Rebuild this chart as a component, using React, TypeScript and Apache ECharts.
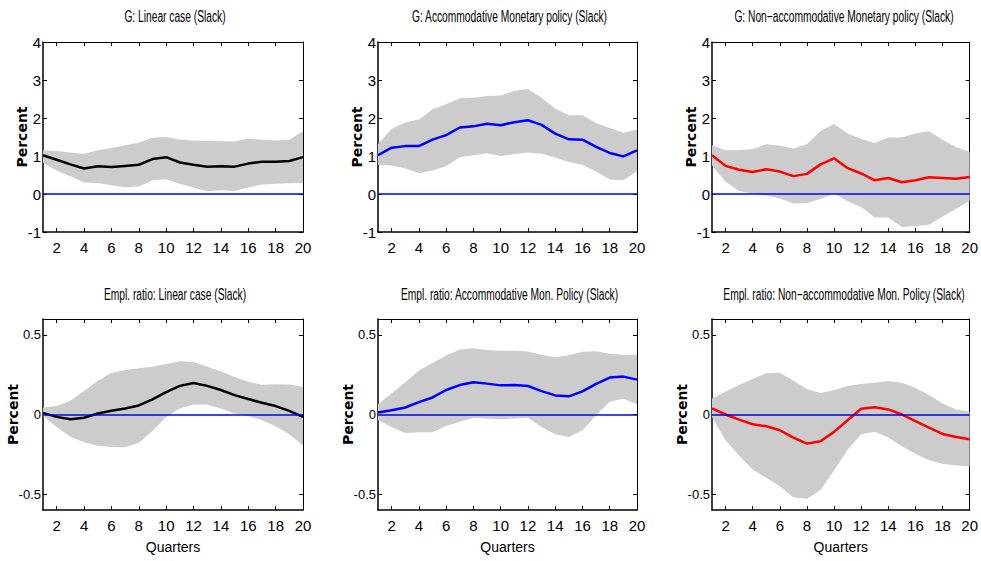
import React, { useEffect, useRef } from "react";
import * as echarts from "echarts";

const quarters = ["1","2","3","4","5","6","7","8","9","10","11","12","13","14","15","16","17","18","19","20"];

const gTicks = [-1, 0, 1, 2, 3, 4];
const eTicks = [-0.5, 0, 0.5];

const gLinMean = [1.02,0.90,0.78,0.67,0.73,0.71,0.74,0.77,0.92,0.97,0.83,0.77,0.72,0.73,0.72,0.80,0.85,0.85,0.87,0.97];
const gLinUp = [1.15,1.13,1.09,1.05,1.15,1.21,1.28,1.35,1.48,1.50,1.43,1.41,1.40,1.39,1.38,1.46,1.43,1.41,1.43,1.65];
const gLinLo = [0.82,0.62,0.47,0.30,0.29,0.23,0.18,0.20,0.36,0.39,0.27,0.17,0.07,0.10,0.08,0.17,0.25,0.27,0.28,0.29];

const gAccMean = [1.02,1.22,1.26,1.26,1.43,1.55,1.75,1.78,1.85,1.81,1.89,1.94,1.82,1.59,1.44,1.43,1.24,1.08,0.99,1.15];
const gAccUp = [1.31,1.72,1.88,1.96,2.23,2.36,2.52,2.53,2.58,2.59,2.72,2.76,2.53,2.25,2.07,2.07,1.87,1.74,1.61,1.70];
const gAccLo = [0.77,0.75,0.67,0.55,0.62,0.74,0.97,1.02,1.07,1.00,1.05,1.09,1.06,0.96,0.84,0.77,0.59,0.38,0.36,0.60];

const gNonMean = [1.02,0.74,0.64,0.58,0.65,0.59,0.47,0.53,0.78,0.94,0.68,0.54,0.36,0.42,0.31,0.36,0.44,0.42,0.40,0.45];
const gNonUp = [1.28,1.15,1.16,1.18,1.31,1.27,1.20,1.31,1.66,1.84,1.59,1.45,1.34,1.49,1.49,1.59,1.65,1.43,1.24,1.11];
const gNonLo = [0.75,0.32,0.08,0.01,-0.04,-0.12,-0.25,-0.24,-0.13,0.01,-0.19,-0.34,-0.62,-0.62,-0.87,-0.84,-0.81,-0.59,-0.39,-0.18];

const eLinMean = [0.01,-0.015,-0.03,-0.02,0.006,0.023,0.038,0.057,0.095,0.14,0.18,0.198,0.18,0.154,0.122,0.097,0.074,0.053,0.023,-0.015];
const eLinUp = [0.044,0.053,0.086,0.147,0.21,0.26,0.28,0.29,0.30,0.318,0.335,0.33,0.30,0.27,0.236,0.206,0.187,0.19,0.189,0.175];
const eLinLo = [-0.01,-0.078,-0.14,-0.175,-0.196,-0.204,-0.206,-0.177,-0.103,-0.015,0.038,0.063,0.063,0.038,0.006,-0.01,-0.036,-0.074,-0.124,-0.194];

const eAccMean = [0.013,0.027,0.044,0.078,0.107,0.154,0.185,0.202,0.194,0.183,0.185,0.179,0.147,0.12,0.114,0.145,0.192,0.232,0.238,0.219];
const eAccUp = [0.065,0.133,0.202,0.276,0.324,0.37,0.408,0.417,0.406,0.40,0.40,0.396,0.375,0.36,0.373,0.394,0.398,0.381,0.375,0.375];
const eAccLo = [-0.036,-0.078,-0.116,-0.112,-0.112,-0.072,-0.046,-0.021,-0.025,-0.03,-0.025,-0.021,-0.078,-0.124,-0.141,-0.099,-0.004,0.08,0.099,0.065];

const eNonMean = [0.038,0.0,-0.032,-0.061,-0.074,-0.099,-0.145,-0.183,-0.168,-0.109,-0.036,0.036,0.046,0.032,0.0,-0.042,-0.082,-0.122,-0.141,-0.156];
const eNonUp = [0.10,0.143,0.185,0.223,0.259,0.263,0.213,0.158,0.135,0.154,0.179,0.192,0.20,0.21,0.20,0.168,0.122,0.069,0.032,0.017];
const eNonLo = [-0.015,-0.162,-0.257,-0.345,-0.398,-0.45,-0.52,-0.53,-0.474,-0.352,-0.221,-0.124,-0.109,-0.145,-0.2,-0.246,-0.288,-0.309,-0.32,-0.326];

const titles = [
  "G: Linear case (Slack)",
  "G: Accommodative Monetary policy (Slack)",
  "G: Non\u2212accommodative Monetary policy (Slack)",
  "Empl. ratio: Linear case (Slack)",
  "Empl. ratio: Accommodative Mon. Policy (Slack)",
  "Empl. ratio: Non\u2212accommodative Mon. Policy (Slack)",
];

const panels = [
  { mean: gLinMean, up: gLinUp, lo: gLinLo, color: "#000000" },
  { mean: gAccMean, up: gAccUp, lo: gAccLo, color: "#0000ff" },
  { mean: gNonMean, up: gNonUp, lo: gNonLo, color: "#ff0000" },
  { mean: eLinMean, up: eLinUp, lo: eLinLo, color: "#000000" },
  { mean: eAccMean, up: eAccUp, lo: eAccLo, color: "#0000ff" },
  { mean: eNonMean, up: eNonUp, lo: eNonLo, color: "#ff0000" },
];

const SANS = "'Liberation Sans', Arial, Helvetica, sans-serif";

const colLeft = [43, 378, 712];
const colWidth = [260, 259, 260];
const rowTop = [42, 319];
const rowHeight = [190, 191];
const titleY = [17, 295];

const evenIdx = (index: number) => index % 2 === 1;

function buildOption() {
  const grid: any[] = [];
  const xAxis: any[] = [];
  const yAxis: any[] = [];
  const series: any[] = [];
  const graphic: any[] = [];

  panels.forEach((p, i) => {
    const r = Math.floor(i / 3);
    const c = i % 3;
    const left = colLeft[c];
    const width = colWidth[c];
    grid.push({ left, top: rowTop[r], width, height: rowHeight[r], containLabel: false });
    graphic.push({
      type: "text",
      x: left + width / 2 + 2,
      y: titleY[r],
      scaleX: 0.64,
      silent: true,
      style: {
        text: titles[i],
        fontFamily: SANS,
        fontSize: 16,
        fill: "#000",
        align: "center",
        verticalAlign: "middle",
      },
    });

    const xBase = {
      type: "category",
      gridIndex: i,
      data: quarters,
      boundaryGap: false,
      splitLine: { show: false },
    };
    xAxis.push({
      ...xBase,
      position: "bottom",
      axisLine: { show: true, onZero: false, lineStyle: { color: "#000", width: 1.5 } },
      axisTick: { show: true, inside: true, length: 4, interval: evenIdx, lineStyle: { color: "#000", width: 1 } },
      axisLabel: { show: true, interval: evenIdx, margin: 8, color: "#000", fontFamily: SANS, fontSize: 15 },
      name: r === 1 ? "Quarters" : "",
      nameLocation: "middle",
      nameGap: 30,
      nameMoveOverlap: false,
      nameTextStyle: { fontFamily: SANS, fontSize: 14, color: "#000" },
    });
    xAxis.push({
      ...xBase,
      position: "top",
      axisLine: { show: true, onZero: false, lineStyle: { color: "#000", width: 1 } },
      axisTick: { show: true, inside: true, length: 4, interval: evenIdx, lineStyle: { color: "#000", width: 1 } },
      axisLabel: { show: false },
    });

    const ticks = r === 0 ? gTicks : eTicks;
    const yBase: any = {
      type: "value",
      gridIndex: i,
      min: r === 0 ? -1 : -0.6,
      max: r === 0 ? 4 : 0.6,
      splitLine: { show: false },
    };
    if (r === 0) yBase.interval = 1;
    yAxis.push({
      ...yBase,
      position: "left",
      axisLine: { show: true, onZero: false, lineStyle: { color: "#000", width: 1.5 } },
      axisTick: { show: true, inside: true, length: 4, customValues: ticks, lineStyle: { color: "#000", width: 1 } },
      axisLabel: { show: true, margin: 2, customValues: ticks, color: "#000", fontFamily: SANS, fontSize: r === 0 ? 15 : 13 },
      name: "Percent",
      nameLocation: "middle",
      nameRotate: 90,
      nameGap: r === 0 ? 14 : 23,
      nameMoveOverlap: false,
      nameTextStyle: { fontFamily: "'DejaVu Sans', sans-serif", fontSize: 14, fontWeight: "bold", color: "#000" },
    });
    yAxis.push({
      ...yBase,
      position: "right",
      axisLine: { show: true, onZero: false, lineStyle: { color: "#000", width: 1 } },
      axisTick: { show: true, inside: true, length: 4, customValues: ticks, lineStyle: { color: "#000", width: 1 } },
      axisLabel: { show: false },
    });

    const diff = p.up.map((u, k) => +(u - p.lo[k]).toFixed(4));
    series.push({
      type: "line",
      xAxisIndex: 2 * i,
      yAxisIndex: 2 * i,
      data: p.lo,
      stack: "band" + i,
      stackStrategy: "all",
      symbol: "none",
      lineStyle: { opacity: 0, width: 0 },
      silent: true,
      z: 1,
    });
    series.push({
      type: "line",
      xAxisIndex: 2 * i,
      yAxisIndex: 2 * i,
      data: diff,
      stack: "band" + i,
      stackStrategy: "all",
      symbol: "none",
      lineStyle: { opacity: 0, width: 0 },
      areaStyle: { color: "#cccccc", opacity: 1 },
      silent: true,
      z: 1,
      markLine: {
        silent: true,
        symbol: ["none", "none"],
        label: { show: false },
        lineStyle: { color: "#0000ff", width: 1.5, type: "solid" },
        data: [{ yAxis: 0 }],
      },
    });
    series.push({
      type: "line",
      xAxisIndex: 2 * i,
      yAxisIndex: 2 * i,
      data: p.mean,
      symbol: "none",
      lineStyle: { color: p.color, width: 2.5 },
      silent: true,
      z: 4,
    });
  });

  return {
    animation: false,
    backgroundColor: "#ffffff",
    graphic,
    grid,
    xAxis,
    yAxis,
    series,
  };
}

export default function App() {
  const ref = useRef<HTMLDivElement>(null);
  useEffect(() => {
    const chart = echarts.init(ref.current!, null, { renderer: "svg" });
    chart.setOption(buildOption() as any);
    return () => chart.dispose();
  }, []);
  return (
    <div
      ref={ref}
      style={{ position: "fixed", left: 0, top: 0, width: 981, height: 561, background: "#fff" }}
    />
  );
}
